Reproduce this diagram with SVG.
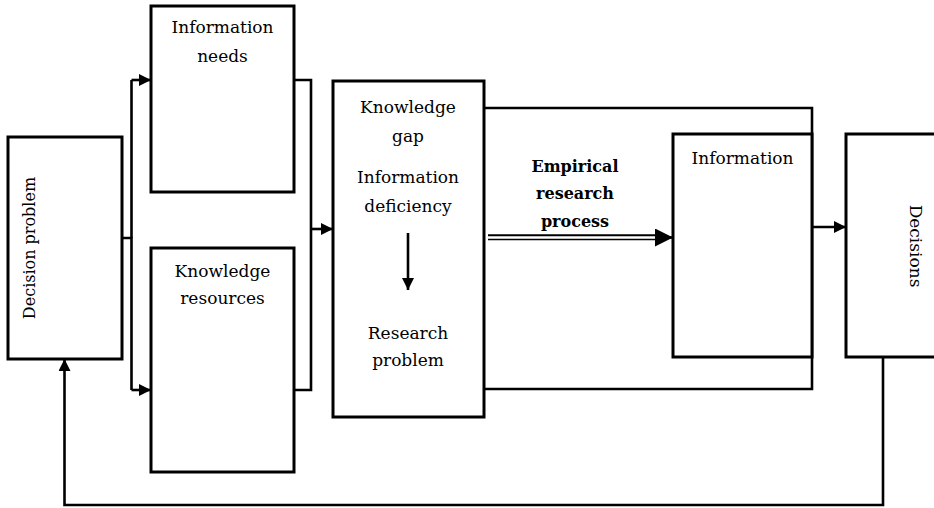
<svg xmlns="http://www.w3.org/2000/svg" width="934" height="508" viewBox="0 0 934 508">
<style>
.box{fill:#fff;stroke:#000;stroke-width:3}
.ln{fill:none;stroke:#000;stroke-width:2.6}
text{font-family:"DejaVu Serif","Liberation Serif",serif;font-size:17px;fill:#000;text-anchor:middle}
.b{font-weight:bold;font-size:16px}
</style>
<defs>
<marker id="ah" markerUnits="userSpaceOnUse" markerWidth="14" markerHeight="12" refX="12" refY="6" orient="auto">
<path d="M0,0 L12,6 L0,12 Z" fill="#000"/>
</marker>
<marker id="ahL" markerUnits="userSpaceOnUse" markerWidth="20" markerHeight="20" refX="18" refY="9" orient="auto">
<path d="M0,0 L18,9 L0,18 Z" fill="#000"/>
</marker>
</defs>
<rect width="934" height="508" fill="#fff"/>
<g id="connectors">
<path class="ln" d="M122,238 H131.5 V390"/>
<path class="ln" d="M131.5,80 V238"/>
<path class="ln" d="M131.5,80 H151" marker-end="url(#ah)"/>
<path class="ln" d="M131.5,390 H151" marker-end="url(#ah)"/>
<path class="ln" d="M294,80 H311 V390 H294"/>
<path class="ln" d="M311,229 H333" marker-end="url(#ah)"/>
<path class="ln" d="M484,108 H812 V389 H484"/>
<line x1="488" y1="235.3" x2="660" y2="235.3" stroke="#000" stroke-width="2"/>
<line x1="488" y1="239.5" x2="660" y2="239.5" stroke="#000" stroke-width="1.5"/>
<path class="ln" d="M655,237.5 H673" stroke="none" marker-end="url(#ahL)"/>
<path class="ln" d="M812,227 H846" marker-end="url(#ah)"/>
<path class="ln" d="M883,357 V505 H64.5 V359" marker-end="url(#ah)"/>
<path class="ln" d="M408,233 V290" marker-end="url(#ah)"/>
</g>
<g id="decision-problem">
<rect class="box" x="8" y="137" width="114" height="222"/>
<text x="35" y="248" font-size="16" style="font-size:16px" transform="rotate(-90 35 248)">Decision problem</text>
</g>
<g id="information-needs">
<rect class="box" x="151" y="6" width="143" height="186"/>
<text x="222.5" y="33">Information</text>
<text x="222.5" y="62">needs</text>
</g>
<g id="knowledge-resources">
<rect class="box" x="151" y="248" width="143" height="224"/>
<text x="222.5" y="277">Knowledge</text>
<text x="222.5" y="304">resources</text>
</g>
<g id="knowledge-gap">
<rect class="box" x="333" y="81" width="151" height="336" style="fill:none"/>
<text x="408" y="113">Knowledge</text>
<text x="408" y="142">gap</text>
<text x="408" y="183">Information</text>
<text x="408" y="212">deficiency</text>
<text x="408" y="339">Research</text>
<text x="408" y="366">problem</text>
</g>
<g id="empirical-research-process">
<text class="b" x="575" y="172">Empirical</text>
<text class="b" x="575" y="199">research</text>
<text class="b" x="575" y="227">process</text>
</g>
<g id="information">
<rect class="box" x="673" y="134" width="139" height="223"/>
<text x="742.5" y="164">Information</text>
</g>
<g id="decisions">
<rect class="box" x="846" y="134" width="100" height="223"/>
<text x="910" y="246" transform="rotate(90 910 246)">Decisions</text>
</g>
</svg>
